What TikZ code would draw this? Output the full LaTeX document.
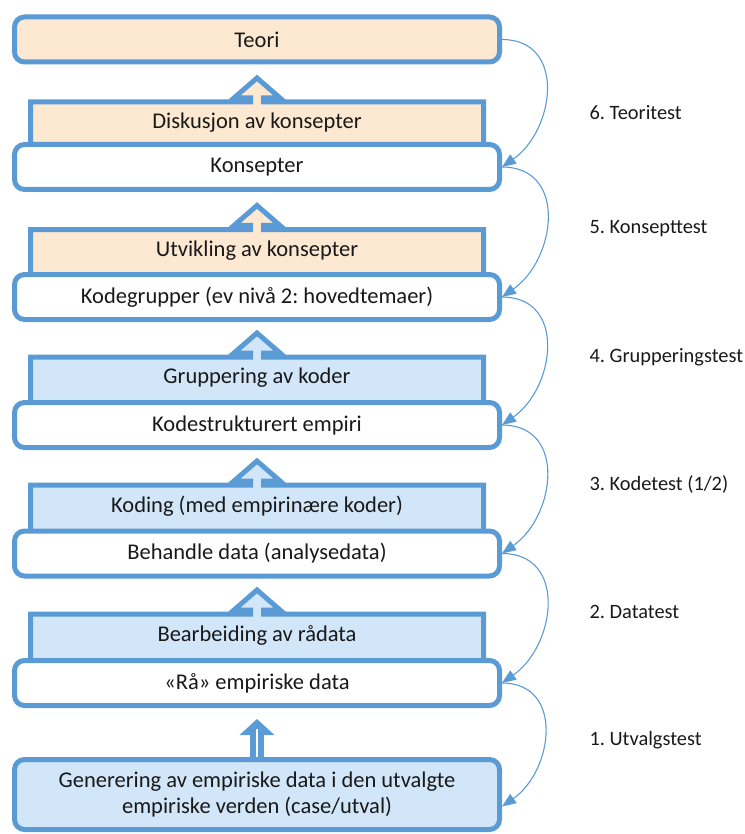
\documentclass[tikz,border=0pt]{standalone}
\usepackage{fontspec}
\setmainfont{Carlito}
\usetikzlibrary{positioning,calc,arrows.meta}
\frenchspacing

\definecolor{rimblue}{HTML}{5B9BD5}
\definecolor{peach}{HTML}{FDE9D2}
\definecolor{paleblue}{HTML}{D2E6F9}

\tikzset{
  level/.style={draw=rimblue, line width=5pt, rounded corners=10pt, fill=white,
    minimum width=485pt, minimum height=45pt, inner sep=0pt},
  stepline/.style={draw=rimblue, line width=5pt},
  testarrow/.style={draw=rimblue, line width=1.1pt, -{Triangle[length=14pt,width=11pt]}},
  uparrow/.style={draw=rimblue, line width=14pt, -{Triangle[length=16pt,width=34pt]}},
  testlabel/.style={anchor=west, font=\fontsize{20.4}{24}\selectfont},
}

\begin{document}
\begin{tikzpicture}[x=1pt, y=-1pt, font=\fontsize{22.5}{27}\selectfont, text=black!90]
\useasboundingbox (0,0) rectangle (744,834);

% steps (block arrows behind the levels)
\foreach \nm/\y/\col/\txt in {diskusjon/102/peach/Diskusjon av konsepter,
                              utvikling/229.5/peach/Utvikling av konsepter,
                              gruppering/357/paleblue/Gruppering av koder,
                              koding/485/paleblue/Koding (med empirinære koder),
                              bearbeiding/614/paleblue/Bearbeiding av rådata}{
    \draw[stepline, fill=\col] (30.5, \y+50) -- (30.5, \y) -- (250.5, \y) -- (250.5, \y-4)
        -- (234, \y-4) -- (257, \y-24) -- (280, \y-4) -- (263.5, \y-4) -- (263.5, \y)
        -- (483.5, \y) -- (483.5, \y+50) -- cycle;
    \path (257, \y+21) node (\nm) {\txt};
}

% levels
\path (257, 39.5) node[level, fill=peach] (teori) {Teori};
\path (257, 167) node[level] (konsepter) {Konsepter};
\path (257, 297) node[level] (kodegrupper) {Kodegrupper (ev nivå 2: hovedtemaer)};
\path (257, 425) node[level] (kodestr) {Kodestrukturert empiri};
\path (257, 553.5) node[level] (behandle) {Behandle data (analysedata)};
\path (257, 683) node[level] (raa) {«Rå» empiriske data};
\path (257, 794.5) node[level, fill=paleblue, minimum height=70pt, align=center] (gen)
    {Generering av empiriske data i den utvalgte\\[-1pt]empiriske verden (case/utval)};

% double arrow
\draw[uparrow] (gen.north) -- ([yshift=-11pt]raa.south);
\draw[white, line width=2pt] (gen.north) -- ([yshift=-21pt]raa.south);

% tests
\foreach \a/\b in {teori/konsepter, konsepter/kodegrupper, kodegrupper/kodestr,
                   kodestr/behandle, behandle/raa}
    \draw[testarrow] (\a.east) to[out=0, in=35, looseness=1.3] (\b.east);
\draw[testarrow] (raa.east) to[out=0, in=35, looseness=1.3] ([yshift=-12pt]gen.east);

\path (586, 113) node[testlabel] (t6) {6. Teoritest};
\path (586, 229) node[testlabel] (t5) {5. Konsepttest};
\path (586, 357) node[testlabel] (t4) {4. Grupperingstest};
\path (586, 484) node[testlabel] (t3) {3. Kodetest (1/2)};
\path (586, 612) node[testlabel] (t2) {2. Datatest};
\path (586, 740) node[testlabel] (t1) {1. Utvalgstest};
\end{tikzpicture}
\end{document}
